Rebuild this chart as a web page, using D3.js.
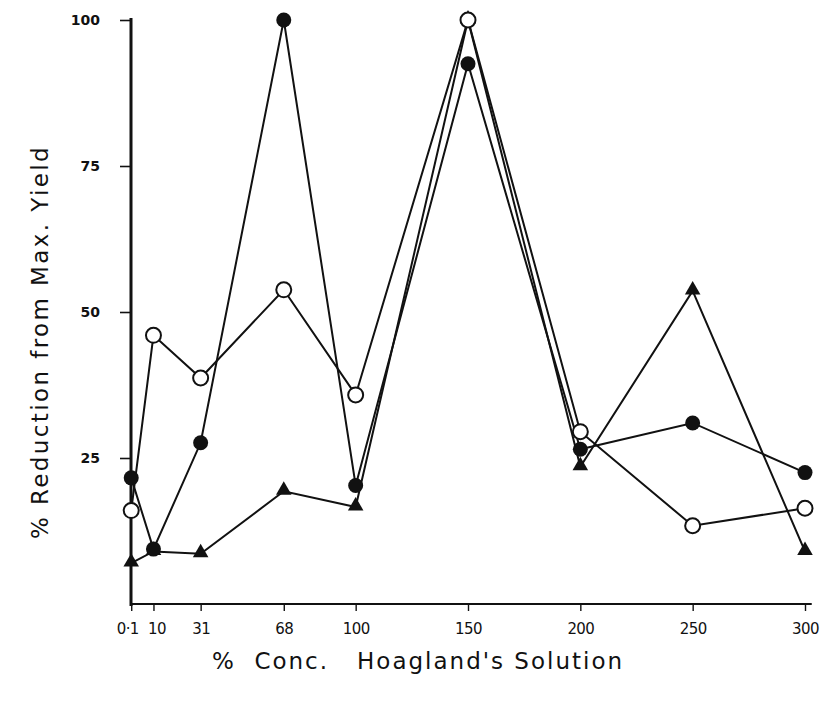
<!DOCTYPE html>
<html>
<head>
<meta charset="utf-8">
<script src="https://cdn.jsdelivr.net/npm/d3@7/dist/d3.min.js"></script>
<style>
  body { margin: 0; background: #fff; }
  svg { display: block; }
  text { fill: #111; }
</style>
</head>
<body>
<svg id="chart" width="838" height="701"></svg>
<script>
// Concentration of Hoagland's solution (%)
const concentrations = [0.1, 10, 31, 68, 100, 150, 200, 250, 300];
const xTickLabels = ["0·1", "10", "31", "68", "100", "150", "200", "250", "300"];
const yTicks = [25, 50, 75, 100];

// % reduction from maximum yield for each treatment series
const filledCircleSeries = [21.6, 9.4, 27.6, 100, 20.3, 92.5, 26.5, 31, 22.5];
const openCircleSeries   = [16, 46, 38.7, 53.8, 35.8, 100, 29.5, 13.4, 16.4];
const triangleSeries     = [7, 9, 8.6, 19.3, 16.6, 100, 23.5, 53.6, 9];

const svg = d3.select("#chart");
const ink = "#111";

const x = d3.scaleLinear().domain([0, 300]).range([131, 805]);
const y = d3.scaleLinear().domain([0, 100]).range([604, 20]);

// Axes
const yAxis = d3.axisLeft(y).tickValues(yTicks).tickSize(11).tickPadding(20)
  .tickFormat(d3.format("d"));
const gy = svg.append("g").attr("transform", `translate(${x(0)},0)`).call(yAxis);
gy.select(".domain").remove();
gy.selectAll(".tick line").attr("stroke", ink).attr("stroke-width", 1.6);
gy.selectAll(".tick text")
  .attr("font-family", "DejaVu Sans, sans-serif")
  .attr("font-size", 14).attr("font-weight", "bold").attr("fill", ink);

const xAxis = d3.axisBottom(x).tickValues(concentrations).tickSize(7).tickPadding(12)
  .tickFormat((d, i) => xTickLabels[i]);
const gx = svg.append("g").attr("transform", `translate(0,${y(0)})`).call(xAxis);
gx.select(".domain").remove();
gx.selectAll(".tick line").attr("stroke", ink).attr("stroke-width", 1.4);
gx.selectAll(".tick text")
  .attr("font-family", "DejaVu Sans, sans-serif")
  .attr("font-size", 15).attr("letter-spacing", -0.6).attr("fill", ink);
// the two leftmost labels sit close together; nudge them apart
gx.selectAll(".tick text").filter((d, i) => i === 0).attr("dx", -4);
gx.selectAll(".tick text").filter((d, i) => i === 1).attr("dx", 3);

// Axis lines
svg.append("line")
  .attr("x1", x(0)).attr("x2", x(0))
  .attr("y1", y(100) - 2).attr("y2", y(0) + 2)
  .attr("stroke", ink).attr("stroke-width", 3);
svg.append("line")
  .attr("x1", x(0)).attr("x2", x(303))
  .attr("y1", y(0)).attr("y2", y(0))
  .attr("stroke", ink).attr("stroke-width", 2.2);

// Axis titles
svg.append("text")
  .attr("transform", `translate(48,${y(50) + 30}) rotate(-90)`)
  .attr("text-anchor", "middle")
  .attr("font-family", "DejaVu Sans, sans-serif")
  .attr("font-size", 23)
  .attr("letter-spacing", 2.4)
  .text("% Reduction from Max. Yield");

svg.append("text")
  .attr("x", 418).attr("y", 669)
  .attr("text-anchor", "middle")
  .attr("font-family", "DejaVu Sans, sans-serif")
  .attr("font-size", 23)
  .attr("letter-spacing", 2)
  .attr("xml:space", "preserve")
  .text("%  Conc.   Hoagland's Solution");

// Series lines
const line = d3.line().x((d, i) => x(concentrations[i])).y(d => y(d));
const series = [
  { values: triangleSeries, type: "triangle" },
  { values: openCircleSeries, type: "open" },
  { values: filledCircleSeries, type: "filled" }
];

series.forEach(s => {
  svg.append("path")
    .datum(s.values)
    .attr("d", line)
    .attr("fill", "none")
    .attr("stroke", ink)
    .attr("stroke-width", 2);
});

// Markers
const tri = d3.symbol().type(d3.symbolTriangle).size(105);
series.forEach(s => {
  const g = svg.append("g");
  s.values.forEach((v, i) => {
    const cx = x(concentrations[i]), cy = y(v);
    if (s.type === "triangle") {
      g.append("path").attr("d", tri)
        .attr("transform", `translate(${cx},${cy - 1})`)
        .attr("fill", ink);
    } else if (s.type === "open") {
      g.append("circle").attr("cx", cx).attr("cy", cy).attr("r", 7.5)
        .attr("fill", "#fff").attr("stroke", ink).attr("stroke-width", 2);
    } else {
      g.append("circle").attr("cx", cx).attr("cy", cy).attr("r", 7.5)
        .attr("fill", ink);
    }
  });
});
</script>
</body>
</html>
